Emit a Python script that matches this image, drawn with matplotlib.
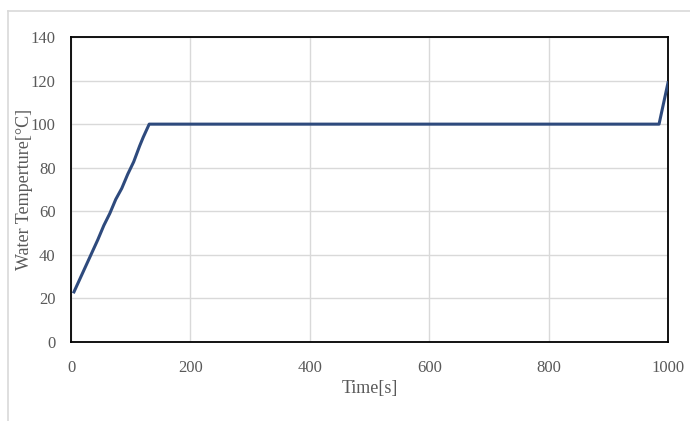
import matplotlib
matplotlib.use("Agg")
import matplotlib.pyplot as plt
from matplotlib.lines import Line2D

time_s = [5, 15, 25, 35, 45, 55, 65, 75, 85, 95, 105, 115, 121, 126, 131, 985, 1000]
temp_c = [23, 29, 35, 41, 47, 53.5, 59, 65.5, 70.5, 77, 82.7, 90, 94, 97, 100, 100, 119]

x_ticks = [0, 200, 400, 600, 800, 1000]
y_ticks = [0, 20, 40, 60, 80, 100, 120, 140]

plt.rcParams['font.family'] = ['Liberation Serif', 'DejaVu Serif']

fig = plt.figure(figsize=(6.9, 4.21), dpi=100)
ax = fig.add_axes([71/690, 1 - 342/421, (668-71)/690, (342-37)/421])

ax.plot(time_s, temp_c, color='#2E4A7D', lw=2.2, solid_joinstyle='round', zorder=3)

ax.set_xlim(0, 1000)
ax.set_ylim(0, 140)
ax.set_xticks(x_ticks)
ax.set_yticks(y_ticks)
ax.grid(True, color='#D9D9D9', lw=1.0)
ax.set_axisbelow(True)
ax.tick_params(length=0, labelsize=12, labelcolor='#595959')
ax.tick_params(axis='x', pad=13)
ax.tick_params(axis='y', pad=11)
for s in ax.spines.values():
    s.set_color('black')
    s.set_linewidth(1.3)

ax.set_xlabel('Time[s]', fontsize=13, color='#595959', labelpad=3)
ax.set_ylabel('Water Temperture[°C]', fontsize=13, color='#595959', labelpad=-1.5)

# outer chart border (top and left visible)
fig.add_artist(Line2D([8/690, 1], [1 - 11/421, 1 - 11/421], transform=fig.transFigure, color='#D9D9D9', lw=1.2))
fig.add_artist(Line2D([8/690, 8/690], [0, 1 - 11/421], transform=fig.transFigure, color='#D9D9D9', lw=1.2))

fig.savefig('out.png', dpi=100)
